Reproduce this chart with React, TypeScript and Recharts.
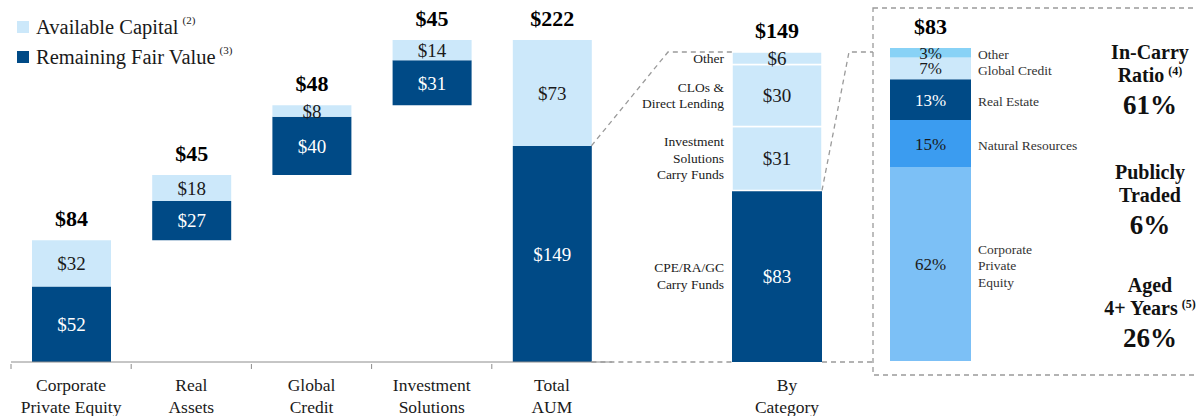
import React from "react";
import { BarChart, Bar, XAxis, YAxis, LabelList, Legend } from "recharts";

const SERIF = '"Liberation Serif", "Times New Roman", "DejaVu Serif", serif';
const DARK = "#004a86";
const LIGHT = "#cce8fa";
const SKY = "#7cc0f6";
const MID = "#3b9cf0";
const CYAN = "#88d2f6";
const INK = "#1a1a1a";
const DASH = "#9a9a9a";

// unrealized carry-eligible AUM by segment ($bn)
const segments = ["Corporate\nPrivate Equity", "Real\nAssets", "Global\nCredit", "Investment\nSolutions", "Total\nAUM"];
const fairValue = [52, 27, 40, 31, 149];
const availCapital = [32, 18, 8, 14, 73];
const segmentTotals = [84, 45, 48, 45, 222];
const waterfallBase = [0, 84, 129, 177, 0];

// remaining fair value split by category
const categoryNames = ["CPE/RA/GC\nCarry Funds", "Investment\nSolutions\nCarry Funds", "CLOs &\nDirect Lending", "Other"];
const categoryValues = [83, 31, 30, 6];
const categoryTotal = 149;

// carry fund fair value mix (%)
const carryNames = ["Corporate\nPrivate\nEquity", "Natural Resources", "Real Estate", "Global Credit", "Other"];
const carryPct = [62, 15, 13, 7, 3];
const carryTotal = 83;
const carryColors = [SKY, MID, DARK, LIGHT, CYAN];

const stats = [
  { title: ["In-Carry", "Ratio"], note: "(4)", value: "61%" },
  { title: ["Publicly", "Traded"], note: "", value: "6%" },
  { title: ["Aged", "4+ Years"], note: "(5)", value: "26%" },
];

const legendItems = [
  { label: "Available Capital", note: "(2)", color: LIGHT },
  { label: "Remaining Fair Value", note: "(3)", color: DARK },
];

const mainData = segments.map((name, i) => ({
  name,
  base: waterfallBase[i],
  fair: fairValue[i],
  avail: availCapital[i],
  total: segmentTotals[i],
}));

const catRow: Record<string, any> = { name: "By\nCategory", total: categoryTotal };
categoryValues.forEach((v, i) => (catRow[`c${i}`] = v));
const catMax = categoryValues.reduce((a, b) => a + b, 0);

const carryRow: Record<string, any> = { name: "carry", total: carryTotal };
carryPct.forEach((v, i) => (carryRow[`p${i}`] = v));

// layout
const W = 1197;
const H = 416;
const BASE_Y = 362;
const MAIN_TOP = 40;
const MAIN_LEFT = 11;
const MAIN_W = 612;
const BAND = (MAIN_W - MAIN_LEFT) / segments.length;
const MAIN_BAR = 79;
const CAT_X = 617;
const CAT_PAD = 90;
const CAT_W = 230;
const CAT_TOP = 52;
const CAT_BAR = 90;
const PCT_X = 870;
const PCT_CENTER = 930.5;
const PCT_BAR = 81;
const PCT_TOP = 48;
const PCT_PLOT = 2 * (PCT_CENTER - PCT_X);

const mainMax = Math.max(...segmentTotals);
const yMain = (v: number) => BASE_Y - (v / mainMax) * (BASE_Y - MAIN_TOP);
const yCat = (v: number) => BASE_Y - (v / catMax) * (BASE_Y - CAT_TOP);

const totalRight = MAIN_LEFT + BAND * (segments.length - 0.5) + MAIN_BAR / 2;
const catCenter = CAT_X + CAT_PAD + (CAT_W - CAT_PAD) / 2;
const catLeft = catCenter - CAT_BAR / 2;
const catRight = catCenter + CAT_BAR / 2;
const boxX = 873;

const money = (v: any) => `$${v}`;

const AxisTick = (props: any) => {
  const { x, y, payload, tickMark, dx = 0 } = props;
  const lines = String(payload.value).split("\n");
  const tx = x + dx;
  return (
    <g>
      {tickMark && <line x1={x - BAND / 2} x2={x - BAND / 2} y1={y} y2={y + 5} stroke="#8c8c8c" />}
      <text x={tx} y={y + 27} textAnchor="middle" fontFamily={SERIF} fontSize={17.5} fill={INK}>
        {lines.map((l, k) => (
          <tspan key={k} x={tx} dy={k === 0 ? 0 : 22}>
            {l}
          </tspan>
        ))}
      </text>
    </g>
  );
};

const sideLabel =
  (text: string, side: "left" | "right", size: number, color: string, nudge: number) => (p: any) => {
    const vb = p.viewBox && p.viewBox.width != null ? p.viewBox : p;
    const x = Number(vb.x);
    const y = Number(vb.y);
    const w = Number(vb.width);
    const h = Number(vb.height);
    const lines = text.split("\n");
    const lh = size * 1.22;
    const cy = y + h / 2 + nudge;
    const tx = side === "left" ? x - 8 : x + w + 7;
    const y0 = cy - ((lines.length - 1) * lh) / 2 + size * 0.33;
    return (
      <text
        x={tx}
        y={y0}
        textAnchor={side === "left" ? "end" : "start"}
        fontFamily={SERIF}
        fontSize={size}
        fill={color}
      >
        {lines.map((l, k) => (
          <tspan key={k} x={tx} dy={k === 0 ? 0 : lh}>
            {l}
          </tspan>
        ))}
      </text>
    );
  };

const LegendBox = () => (
  <div style={{ fontFamily: SERIF, fontSize: 20.5, color: INK }}>
    {legendItems.map((it) => (
      <div key={it.label} style={{ display: "flex", alignItems: "center", height: 30 }}>
        <span style={{ width: 12, height: 12, background: it.color, marginRight: 7, display: "inline-block" }} />
        <span>{it.label}</span>
        <span style={{ fontSize: 11, position: "relative", top: -7, marginLeft: 4 }}>{it.note}</span>
      </div>
    ))}
  </div>
);

const valueText = { fontFamily: SERIF, fontSize: 19 };
const pctText = { fontFamily: SERIF, fontSize: 17 };
const totalText = { fontFamily: SERIF, fontSize: 22, fontWeight: 700, fill: "#000" };

export default function App() {
  const statTops = [59, 179, 292];
  return (
    <div style={{ position: "relative", width: W, height: H, background: "#fff", overflow: "hidden" }}>
      <style>{`body{margin:0}`}</style>

      {/* segment waterfall */}
      <div style={{ position: "absolute", left: 0, top: 0 }}>
        <BarChart
          width={MAIN_W}
          height={H}
          data={mainData}
          margin={{ top: MAIN_TOP, right: 0, left: MAIN_LEFT, bottom: H - BASE_Y - 50 }}
        >
          <XAxis
            dataKey="name"
            height={50}
            interval={0}
            tickSize={0}
            tickLine={false}
            axisLine={{ stroke: "#8c8c8c" }}
            tick={<AxisTick tickMark />}
          />
          <YAxis hide domain={[0, mainMax]} />
          <Legend
            layout="horizontal"
            verticalAlign="middle"
            align="center"
            wrapperStyle={{ top: 12, left: 17, width: 320 }}
            content={() => <LegendBox />}
          />
          <Bar dataKey="base" stackId="a" fill="transparent" barSize={MAIN_BAR} isAnimationActive={false} />
          <Bar dataKey="fair" stackId="a" fill={DARK} barSize={MAIN_BAR} isAnimationActive={false}>
            <LabelList dataKey="fair" position="center" formatter={money} fill="#fff" {...valueText} />
          </Bar>
          <Bar dataKey="avail" stackId="a" fill={LIGHT} barSize={MAIN_BAR} isAnimationActive={false}>
            <LabelList dataKey="avail" position="center" formatter={money} fill={INK} {...valueText} />
            <LabelList dataKey="total" position="top" offset={14} formatter={money} {...totalText} />
          </Bar>
        </BarChart>
      </div>

      {/* by category */}
      <div style={{ position: "absolute", left: CAT_X, top: 0 }}>
        <BarChart
          width={CAT_W}
          height={H}
          data={[catRow]}
          margin={{ top: CAT_TOP, right: 0, left: CAT_PAD, bottom: H - BASE_Y - 50 }}
        >
          <XAxis
            dataKey="name"
            height={50}
            interval={0}
            tickSize={0}
            tickLine={false}
            axisLine={false}
            tick={<AxisTick dx={10} />}
          />
          <YAxis hide domain={[0, catMax]} />
          {categoryValues.map((_, i) => (
            <Bar
              key={i}
              dataKey={`c${i}`}
              stackId="c"
              fill={i === 0 ? DARK : LIGHT}
              stroke="#fff"
              strokeWidth={i === 0 ? 0 : 1.5}
              barSize={CAT_BAR}
              isAnimationActive={false}
            >
              <LabelList dataKey={`c${i}`} position="center" formatter={money} fill={i === 0 ? "#fff" : INK} {...valueText} />
              <LabelList dataKey={`c${i}`} content={sideLabel(categoryNames[i], "left", 13.5, INK, 0)} />
              {i === categoryValues.length - 1 && (
                <LabelList dataKey="total" position="top" offset={14} formatter={money} {...totalText} />
              )}
            </Bar>
          ))}
        </BarChart>
      </div>

      {/* carry fund mix */}
      <div style={{ position: "absolute", left: PCT_X, top: 0 }}>
        <BarChart
          width={W - PCT_X}
          height={H}
          data={[carryRow]}
          margin={{ top: PCT_TOP, right: W - PCT_X - PCT_PLOT, left: 0, bottom: H - BASE_Y + 1 }}
        >
          <XAxis dataKey="name" hide />
          <YAxis hide domain={[0, 100]} />
          {carryPct.map((_, i) => (
            <Bar
              key={i}
              dataKey={`p${i}`}
              stackId="p"
              fill={carryColors[i]}
              barSize={PCT_BAR}
              isAnimationActive={false}
            >
              <LabelList
                dataKey={`p${i}`}
                position="center"
                formatter={(v: any) => `${v}%`}
                fill={carryColors[i] === DARK ? "#fff" : INK}
                {...pctText}
              />
              <LabelList dataKey={`p${i}`} content={sideLabel(carryNames[i], "right", 13.5, "#333", 2)} />
              {i === carryPct.length - 1 && (
                <LabelList dataKey="total" position="top" offset={14} formatter={money} {...totalText} />
              )}
            </Bar>
          ))}
        </BarChart>
      </div>

      {/* connectors, box and stats */}
      <svg width={W} height={H} style={{ position: "absolute", left: 0, top: 0, pointerEvents: "none" }}>
        <g fill="none" stroke={DASH} strokeWidth={1.3} strokeDasharray="5 4">
          <polyline points={`${totalRight},${yMain(fairValue[4])} 668,${yCat(catMax)} ${catLeft},${yCat(catMax)}`} />
          <line x1={totalRight} y1={BASE_Y} x2={catLeft} y2={BASE_Y} />
          <polyline points={`${catRight},${yCat(categoryValues[0])} 849,${yCat(catMax)} ${boxX},${yCat(catMax)}`} />
          <line x1={catRight} y1={BASE_Y} x2={boxX} y2={BASE_Y} />
          <rect x={boxX} y={8} width={400} height={367} />
        </g>
        <g fontFamily={SERIF} fontWeight={700} fill="#111" textAnchor="middle">
          {stats.map((s, i) => (
            <g key={i}>
              <text x={1150} y={statTops[i]} fontSize={20}>
                {s.title[0]}
              </text>
              <text x={1150} y={statTops[i] + 23} fontSize={20}>
                {s.title[1]}
                {s.note && (
                  <tspan fontSize={12} dy={-7} dx={4}>
                    {s.note}
                  </tspan>
                )}
              </text>
              <text x={1150} y={statTops[i] + 55} fontSize={27}>
                {s.value}
              </text>
            </g>
          ))}
        </g>
      </svg>
    </div>
  );
}
